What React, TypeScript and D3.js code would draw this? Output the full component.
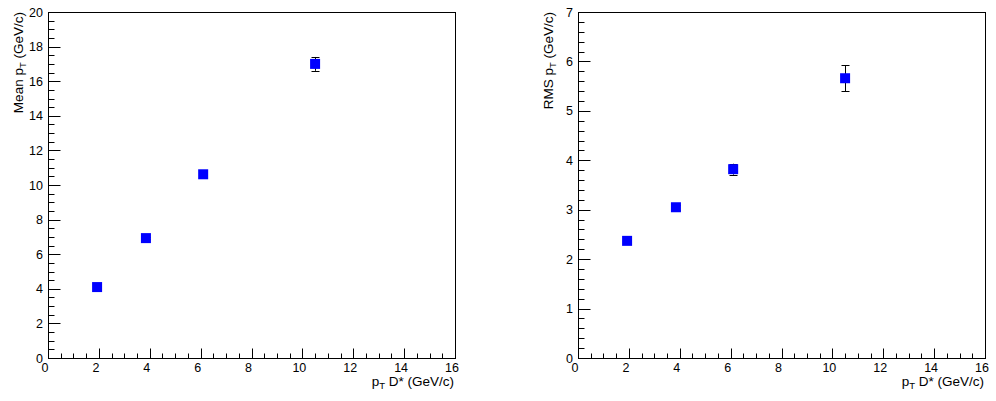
import React from "react";
import * as d3 from "d3";

const ptDstar = [1.93, 3.85, 6.1, 10.5];
const meanPt = [4.1, 6.93, 10.62, 17.0];
const meanPtErr = [0.08, 0.08, 0.1, 0.4];
const rmsPt = [2.37, 3.05, 3.82, 5.66];
const rmsPtErr = [0.05, 0.05, 0.11, 0.26];

const xTicks = [0, 2, 4, 6, 8, 10, 12, 14, 16];
const leftYTicks = [0, 2, 4, 6, 8, 10, 12, 14, 16, 18, 20];
const rightYTicks = [0, 1, 2, 3, 4, 5, 6, 7];

const FONT = "'Liberation Sans', Arial, Helvetica, sans-serif";

type PanelProps = {
  x0: number;
  x1: number;
  y0: number;
  y1: number;
  yMax: number;
  yTicks: number[];
  yMinorStep: number;
  values: number[];
  errors: number[];
  yTitle: string;
  titleX: number;
};

function Panel(p: PanelProps) {
  const xs = d3.scaleLinear().domain([0, 16]).range([p.x0, p.x1]);
  const ys = d3.scaleLinear().domain([0, p.yMax]).range([p.y1, p.y0]);
  const xMinor = d3.range(0, 16.0001, 0.5);
  const yMinor = d3.range(0, p.yMax + 0.0001, p.yMinorStep);
  const c = (v: number) => Math.round(v) + 0.5;
  const ink = "#000";
  return (
    <g>
      <rect
        x={c(p.x0)}
        y={c(p.y0)}
        width={Math.round(p.x1) - Math.round(p.x0)}
        height={Math.round(p.y1) - Math.round(p.y0)}
        fill="none"
        stroke={ink}
        strokeWidth={1}
      />
      {xMinor.map((v, i) => {
        const major = Math.abs(v / 2 - Math.round(v / 2)) < 1e-6;
        return (
          <line
            key={"xm" + i}
            x1={c(xs(v))}
            x2={c(xs(v))}
            y1={c(p.y1)}
            y2={c(p.y1) - (major ? 10 : 5)}
            stroke={ink}
            strokeWidth={1}
          />
        );
      })}
      {yMinor.map((v, i) => {
        const major = p.yTicks.some((t) => Math.abs(t - v) < 1e-6);
        return (
          <line
            key={"ym" + i}
            x1={c(p.x0)}
            x2={c(p.x0) + (major ? 12 : 6)}
            y1={c(ys(v))}
            y2={c(ys(v))}
            stroke={ink}
            strokeWidth={1}
          />
        );
      })}
      {xTicks.map((v) => (
        <text
          key={"xl" + v}
          x={xs(v) - 3}
          y={372}
          textAnchor="middle"
          fontFamily={FONT}
          fontSize={12.5}
          fill={ink}
        >
          {v}
        </text>
      ))}
      {p.yTicks.map((v) => (
        <text
          key={"yl" + v}
          x={p.x0 - 5}
          y={ys(v) + 4.5}
          textAnchor="end"
          fontFamily={FONT}
          fontSize={12.5}
          fill={ink}
        >
          {v}
        </text>
      ))}
      <text
        x={p.x1 - 1}
        y={386}
        textAnchor="end"
        fontFamily={FONT}
        fontSize={13.5}
        fill={ink}
      >
        p<tspan fontSize={9.5} dy={3}>T</tspan>
        <tspan dy={-3}> D* (GeV/c)</tspan>
      </text>
      <text
        transform={`translate(${p.titleX},${p.y0}) rotate(-90)`}
        textAnchor="end"
        fontFamily={FONT}
        fontSize={13.5}
        fill={ink}
      >
        {p.yTitle} p<tspan fontSize={9.5} dy={3}>T</tspan>
        <tspan dy={-3}> (GeV/c)</tspan>
      </text>
      {ptDstar.map((xv, i) => {
        const cx = xs(xv);
        const cy = ys(p.values[i]);
        const yt = ys(p.values[i] + p.errors[i]);
        const yb = ys(p.values[i] - p.errors[i]);
        return (
          <g key={"pt" + i}>
            <line x1={c(cx)} x2={c(cx)} y1={yt} y2={yb} stroke={ink} strokeWidth={1} />
            <line x1={c(cx) - 4} x2={c(cx) + 4} y1={Math.round(yt) + 0.5} y2={Math.round(yt) + 0.5} stroke={ink} strokeWidth={1} />
            <line x1={c(cx) - 4} x2={c(cx) + 4} y1={Math.round(yb) + 0.5} y2={Math.round(yb) + 0.5} stroke={ink} strokeWidth={1} />
            <rect x={cx - 5} y={cy - 5} width={10} height={10} fill="#0000ff" />
          </g>
        );
      })}
    </g>
  );
}

export default function App() {
  return (
    <svg
      width={996}
      height={401}
      style={{ position: "absolute", left: 0, top: 0, background: "#fff" }}
    >
      <rect x={0} y={0} width={996} height={401} fill="#fff" />
      <Panel
        x0={48}
        x1={455}
        y0={12}
        y1={358}
        yMax={20}
        yTicks={leftYTicks}
        yMinorStep={0.5}
        values={meanPt}
        errors={meanPtErr}
        yTitle="Mean"
        titleX={23}
      />
      <Panel
        x0={578}
        x1={985}
        y0={12}
        y1={358}
        yMax={7}
        yTicks={rightYTicks}
        yMinorStep={0.2}
        values={rmsPt}
        errors={rmsPtErr}
        yTitle="RMS"
        titleX={553}
      />
    </svg>
  );
}
